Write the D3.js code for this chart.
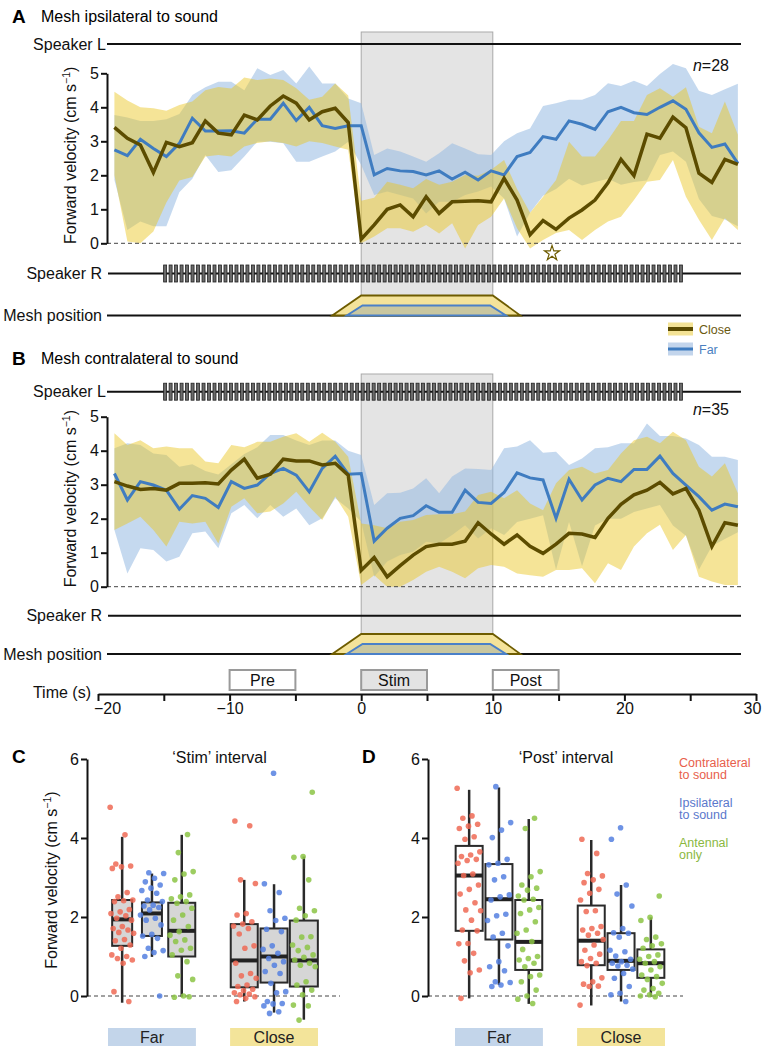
<!DOCTYPE html>
<html>
<head>
<meta charset="utf-8">
<script src="https://cdnjs.cloudflare.com/ajax/libs/d3/7.8.5/d3.min.js"></script>
<style>
  body { margin: 0; background: #fff; }
  svg { display: block; }
</style>
</head>
<body>
<svg id="chart"></svg>
<script>
const W = 763
const H = 1049
const FONT = "'Liberation Sans', Arial, Helvetica, sans-serif"

// time bins, one bin is about 0.987 s
const bins = [-19, -18, -17, -16, -15, -14, -13, -12, -11, -10, -9, -8, -7, -6, -5, -4, -3, -2, -1, 0,
  1, 2, 3, 4, 5, 6, 7, 8, 9, 10, 11, 12, 13, 14, 15, 16, 17, 18, 19, 20, 21, 22, 23, 24, 25, 26, 27, 28, 29]
const binSec = 0.987

// panel A: mesh ipsilateral to sound
const closeMeanA = [3.41, 3.09, 2.89, 2.08, 2.97, 2.84, 2.96, 3.60, 3.24, 3.19, 3.77, 3.63, 4.04, 4.33, 4.12, 3.63, 3.87, 3.97, 3.55, 0.12,
  0.54, 1.00, 1.13, 0.78, 1.37, 0.88, 1.22, 1.24, 1.25, 1.22, 1.91, 1.27, 0.25, 0.67, 0.41, 0.74, 0.98, 1.27, 1.78, 2.47, 1.99, 3.21, 3.09, 3.71, 3.40, 2.06, 1.79, 2.47, 2.32]
const closeLoA = [2.00, 0.05, 0.00, 0.35, 1.20, 1.85, 1.95, 2.55, 2.60, 2.55, 2.85, 2.95, 3.00, 2.95, 2.85, 3.00, 2.95, 2.85, 2.75, 0.00,
  0.20, 0.44, 0.44, 0.34, 0.54, 0.29, 0.59, -0.15, 0.54, 0.78, 1.32, 0.44, -0.15, 0.10, 0.30, 0.39, 0.10, 0.39, 0.64, 0.78, 1.27, 1.81, 1.86, 2.45, 1.37, 0.69, 0.10, 0.74, 0.39]
const closeHiA = [4.46, 4.20, 4.00, 3.97, 3.90, 4.07, 4.17, 4.50, 4.60, 4.55, 4.88, 4.80, 4.85, 4.80, 4.56, 4.22, 4.31, 4.70, 4.35, 1.25,
  1.34, 1.81, 1.72, 1.62, 1.89, 1.72, 1.81, 2.01, 1.99, 2.16, 2.45, 1.60, 0.90, 1.37, 1.86, 2.99, 2.55, 2.55, 3.04, 3.60, 3.60, 4.36, 4.56, 4.31, 4.59, 3.43, 3.24, 4.17, 3.19]
const farMeanA = [2.75, 2.58, 3.06, 2.79, 2.55, 2.94, 3.68, 3.30, 3.30, 3.31, 3.24, 3.65, 3.65, 4.12, 3.61, 4.00, 3.46, 3.38, 3.46, 3.46,
  2.01, 2.20, 2.13, 2.11, 2.01, 2.13, 1.89, 2.09, 1.86, 2.13, 2.01, 2.55, 2.67, 3.14, 3.06, 3.60, 3.50, 3.35, 3.87, 4.00, 3.84, 3.79, 4.00, 4.19, 3.94, 3.25, 2.82, 2.92, 2.35]
const farLoA = [1.86, 0.39, 0.64, 0.50, 0.50, 1.50, 1.90, 2.60, 2.10, 2.15, 2.55, 2.99, 2.99, 2.94, 2.40, 2.40, 2.55, 2.70, 2.99, 2.30,
  1.42, 1.52, 1.42, 1.32, 0.88, 1.22, 1.22, 1.42, 1.52, 1.67, 1.32, 0.20, 0.90, 1.40, 1.60, 1.90, 1.70, 1.80, 1.90, 1.72, 1.80, 1.85, 2.60, 2.70, 2.40, 1.30, 0.80, 0.70, 0.50]
const farHiA = [3.77, 3.70, 3.60, 3.60, 3.65, 3.80, 4.36, 4.59, 4.75, 4.75, 4.50, 5.15, 4.95, 5.10, 4.70, 5.20, 4.70, 4.70, 4.26, 4.12,
  2.60, 2.79, 2.70, 2.55, 2.40, 2.65, 2.94, 2.79, 2.62, 2.60, 3.00, 3.24, 3.38, 4.04, 4.12, 4.22, 4.22, 4.36, 4.71, 4.63, 4.78, 4.63, 4.98, 5.27, 5.15, 4.49, 4.36, 4.53, 4.69]

// panel B: mesh contralateral to sound
const closeMeanB = [3.09, 2.96, 2.86, 2.89, 2.84, 3.04, 3.04, 3.06, 3.02, 3.43, 3.75, 3.19, 3.31, 3.75, 3.70, 3.70, 3.58, 3.63, 3.28, 0.48,
  0.86, 0.29, 0.62, 0.93, 1.18, 1.25, 1.25, 1.34, 1.88, 1.55, 1.25, 1.52, 1.19, 0.98, 1.25, 1.57, 1.55, 1.45, 2.01, 2.42, 2.70, 2.84, 3.07, 2.73, 2.89, 2.25, 1.18, 1.88, 1.81]
const closeLoB = [1.67, 1.86, 2.06, 1.67, 1.18, 1.91, 1.86, 1.91, 1.27, 2.35, 2.60, 2.16, 2.21, 2.45, 2.79, 2.35, 1.96, 2.65, 2.06, 0.05,
  0.34, 0.00, 0.00, 0.20, 0.44, 0.59, 0.44, 0.25, 0.54, 0.64, 0.59, 0.39, 0.34, 0.29, 0.49, 0.49, 0.54, 0.10, 0.69, 0.49, 1.18, 1.57, 1.82, 1.08, 1.52, 0.29, 0.15, 0.05, 0.05]
const closeHiB = [4.51, 4.17, 4.31, 4.07, 4.12, 4.07, 4.07, 3.68, 3.63, 4.17, 4.10, 4.26, 4.26, 4.41, 4.51, 4.26, 4.53, 4.26, 3.82, 1.86,
  1.81, 1.72, 1.91, 1.96, 2.11, 2.13, 2.13, 2.21, 2.70, 2.79, 2.60, 2.84, 2.45, 2.25, 3.04, 3.43, 3.53, 3.33, 3.43, 3.92, 4.31, 4.41, 4.22, 4.56, 4.31, 3.53, 3.24, 3.63, 2.75]
const farMeanB = [3.33, 2.55, 3.09, 2.99, 2.84, 2.28, 2.68, 2.60, 2.33, 3.09, 2.89, 2.99, 3.33, 3.48, 3.28, 2.79, 3.48, 3.84, 3.31, 3.33,
  1.34, 1.72, 2.01, 2.09, 2.38, 2.19, 2.19, 2.84, 2.48, 2.45, 2.77, 3.35, 3.20, 3.14, 2.01, 3.16, 2.55, 2.99, 3.19, 3.09, 3.45, 3.45, 3.84, 3.33, 2.99, 2.65, 2.25, 2.43, 2.35]
const farLoB = [1.67, 0.39, 1.13, 1.08, 0.74, 0.88, 1.57, 1.62, 1.13, 2.16, 2.40, 2.01, 2.40, 2.06, 2.30, 1.81, 2.01, 2.60, 2.30, 1.91,
  0.29, 0.74, 0.93, 1.03, 1.32, 1.27, 1.52, 1.81, 1.42, 1.72, 1.52, 1.90, 2.00, 2.10, 0.50, 1.90, 0.60, 1.80, 2.00, 2.00, 2.20, 2.30, 2.40, 1.80, 1.50, 0.50, 1.20, 1.40, 1.60]
const farHiB = [4.07, 4.22, 4.17, 3.92, 3.87, 3.53, 3.60, 3.40, 3.30, 3.60, 3.90, 4.10, 4.46, 4.46, 4.30, 4.17, 4.30, 4.30, 4.00, 3.87,
  2.40, 2.75, 2.76, 2.89, 3.19, 2.75, 3.24, 3.48, 3.46, 3.43, 4.07, 4.12, 4.31, 3.94, 3.97, 3.58, 3.77, 4.07, 4.10, 4.22, 4.22, 4.80, 4.43, 4.43, 4.36, 4.17, 3.82, 3.82, 3.73]

// stimulus schematic
const pulseT0 = -14.9
const pulseT1 = 24.35
const pulsePeriod = 0.417
const starTimesA = [14.5]
const intervals = [
  {label: "Pre", t0: -10, t1: -5},
  {label: "Stim", t0: 0, t1: 5},
  {label: "Post", t0: 10, t1: 15}
]
const timeTicks = [-20, -15, -10, -5, 0, 5, 10, 15, 20, 25, 30]

// box plots, order: Far contra, Far ipsi, Far antennal, Close contra, Close ipsi, Close antennal
const groups = ["Far", "Close"]
const conds = ["Contralateral", "Ipsilateral", "Antennal"]
const condColors = ["#ee6a55", "#5580e0", "#8cc445"]
const legendLines = [["Contralateral", "to sound"], ["Ipsilateral", "to sound"], ["Antennal", "only"]]
const legendColors = ["#e8604c", "#5a78cc", "#8ab83f"]

const stimLo = [-0.17, 0.99, -0.02, -0.14, -0.42, -0.60]
const stimQ1 = [1.27, 1.52, 1.00, 0.22, 0.34, 0.24]
const stimMed = [1.94, 2.09, 1.65, 0.90, 1.00, 0.90]
const stimQ3 = [2.43, 2.37, 2.36, 1.82, 1.71, 1.91]
const stimHi = [4.03, 3.10, 4.08, 2.94, 2.83, 3.53]

const postLo = [-0.06, 0.28, -0.20, -0.24, -0.14, -0.02]
const postQ1 = [1.65, 1.43, 0.66, 0.78, 0.66, 0.46]
const postMed = [3.05, 2.45, 1.37, 1.40, 0.89, 0.83]
const postQ3 = [3.80, 3.34, 2.43, 2.29, 1.59, 1.18]
const postHi = [5.22, 5.28, 4.48, 3.95, 2.81, 1.99]

const stimFarContra = [4.78, 4.08, 3.34, 3.29, 3.27, 3.23, 2.62, 2.51, 2.43, 2.41, 2.39, 2.19, 2.13, 2.09, 2.03, 1.97, 1.92, 1.76, 1.71, 1.67, 1.61, 1.59, 1.43, 1.40, 1.29, 1.21, 1.04, 1.00, 0.95, 0.91, 0.83, 0.11, -0.14]
const stimFarIpsi = [3.12, 3.10, 2.98, 2.89, 2.81, 2.73, 2.67, 2.60, 2.43, 2.39, 2.30, 2.28, 2.24, 2.18, 2.05, 1.97, 1.92, 1.80, 1.56, 1.52, 1.46, 1.21, 1.15, 1.10, 1.00, 0.00]
const stimFarAnt = [4.09, 3.63, 3.15, 3.09, 2.94, 2.56, 2.51, 2.46, 2.39, 2.35, 2.22, 2.05, 1.92, 1.76, 1.63, 1.54, 1.42, 1.38, 1.21, 1.16, 1.04, 0.87, 0.51, 0.42, 0.00, -0.03, -0.02]
const stimCloseContra = [4.43, 4.31, 2.94, 2.85, 2.09, 2.05, 1.88, 1.82, 1.77, 1.71, 1.57, 1.27, 1.21, 0.83, 0.57, 0.51, 0.45, 0.28, 0.24, 0.17, 0.14, 0.08, 0.05, 0.03, -0.02, -0.06, -0.14]
const stimCloseIpsi = [5.64, 2.84, 2.62, 2.16, 1.97, 1.91, 1.69, 1.63, 1.27, 1.18, 1.08, 0.95, 0.87, 0.78, 0.62, 0.57, 0.32, 0.11, 0.08, -0.14, -0.19, -0.20, -0.25, -0.40, -0.44]
const stimCloseAnt = [5.16, 3.53, 3.51, 2.94, 2.22, 2.16, 2.03, 1.92, 1.50, 1.49, 1.29, 1.23, 1.15, 1.04, 0.98, 0.91, 0.83, 0.78, 0.74, 0.36, 0.28, 0.15, 0.03, -0.23, -0.25, -0.61]

const postFarContra = [5.26, 4.56, 4.50, 4.35, 4.30, 4.24, 4.03, 3.97, 3.65, 3.57, 3.53, 3.46, 3.43, 3.36, 3.09, 3.05, 2.81, 2.70, 2.58, 2.36, 2.18, 2.16, 1.92, 1.67, 1.65, 1.33, 1.32, 1.08, 0.89, 0.66, 0.59, -0.06]
const postFarIpsi = [5.30, 4.39, 4.20, 4.01, 3.46, 3.36, 3.32, 3.02, 2.94, 2.56, 2.51, 2.43, 2.07, 2.03, 1.91, 1.59, 1.49, 1.27, 0.87, 0.74, 0.64, 0.36, 0.34, 0.28, 0.24]
const postFarAnt = [4.50, 4.24, 3.15, 3.02, 2.81, 2.73, 2.68, 2.53, 2.45, 2.43, 2.24, 2.18, 2.09, 1.88, 1.67, 1.59, 1.38, 1.18, 1.00, 0.95, 0.91, 0.83, 0.74, 0.53, 0.49, 0.36, 0.15, 0.00, -0.08, -0.19]
const postCloseContra = [3.97, 3.61, 3.10, 3.04, 2.94, 2.87, 2.70, 2.60, 2.43, 2.16, 2.14, 1.76, 1.71, 1.67, 1.59, 1.54, 1.43, 1.29, 1.16, 1.06, 0.95, 0.87, 0.83, 0.77, 0.46, 0.36, 0.30, 0.25, 0.24, -0.23]
const postCloseIpsi = [4.26, 3.97, 2.81, 2.58, 2.28, 1.71, 1.60, 1.59, 1.49, 1.16, 1.12, 1.01, 0.93, 0.87, 0.83, 0.78, 0.76, 0.68, 0.57, 0.45, 0.24, 0.07, 0.03, -0.14]
const postCloseAnt = [2.53, 1.99, 1.91, 1.49, 1.43, 1.32, 1.27, 1.21, 1.04, 1.00, 0.93, 0.87, 0.83, 0.74, 0.66, 0.53, 0.49, 0.42, 0.32, 0.19, 0.15, 0.07, 0.03, 0.00, -0.02]

const closeCol = "#5c4c00"
const farCol = "#3f7cc0"

const svg = d3.select("#chart")
  .attr("width", W)
  .attr("height", H)
  .style("font-family", FONT)

svg.append("rect").attr("width", W).attr("height", H).attr("fill", "#fff")

const x = d3.scaleLinear().domain([-20, 30]).range([98, 756])
const intFmt = d3.format("d")

const velLabel = (cx, cy) => {
  const t = svg.append("text")
    .attr("transform", `translate(${cx},${cy}) rotate(-90)`)
    .attr("text-anchor", "middle")
    .style("font-size", "16px")
    .attr("fill", "#111")
  t.append("tspan").text("Forward velocity (cm s")
  t.append("tspan").attr("dy", -6).style("font-size", "10.5px").text("\u22121")
  t.append("tspan").attr("dy", 6).text(")")
}

const styleAxis = (g) => {
  g.attr("font-family", FONT).attr("font-size", 16)
  g.select(".domain").attr("stroke", "#111").attr("stroke-width", 2)
  g.selectAll(".tick line").attr("stroke", "#111").attr("stroke-width", 2)
  g.selectAll(".tick text").attr("fill", "#111")
}

function drawTrace(p) {
  const y = d3.scaleLinear().domain([0, 5]).range(p.yRange)
  const g = svg.append("g")
  const meshTop = p.mesh - 20

  // stimulus window
  g.append("rect")
    .attr("x", x(0)).attr("y", p.boxTop)
    .attr("width", x(10) - x(0)).attr("height", meshTop - p.boxTop)
    .attr("fill", "#e4e4e4").attr("stroke", "#a9a9a9").attr("stroke-width", 1)

  const rows = bins.map((k, i) => ({
    t: k * binSec,
    cm: p.closeMean[i], cl: p.closeLo[i], ch: p.closeHi[i],
    fm: p.farMean[i], fl: p.farLo[i], fh: p.farHi[i]
  }))

  const band = (lo, hi) => d3.area().x(d => x(d.t)).y0(d => y(d[lo])).y1(d => y(d[hi]))
  const line = key => d3.line().x(d => x(d.t)).y(d => y(d[key]))

  g.append("path").datum(rows).attr("d", band("fl", "fh"))
    .attr("fill", "rgb(150,185,225)").attr("fill-opacity", 0.55)
  g.append("path").datum(rows).attr("d", band("cl", "ch"))
    .attr("fill", "rgb(233,197,34)").attr("fill-opacity", 0.47)

  g.append("line")
    .attr("x1", 107).attr("x2", 742).attr("y1", y(0)).attr("y2", y(0))
    .attr("stroke", "#444").attr("stroke-width", 1).attr("stroke-dasharray", "4,3")

  g.append("path").datum(rows).attr("d", line("fm"))
    .attr("fill", "none").attr("stroke", farCol).attr("stroke-width", 3)
  g.append("path").datum(rows).attr("d", line("cm"))
    .attr("fill", "none").attr("stroke", closeCol).attr("stroke-width", 3.5)

  g.append("g")
    .attr("transform", "translate(107,0)")
    .call(d3.axisLeft(y).tickValues([0, 1, 2, 3, 4, 5]).tickFormat(intFmt)
      .tickSize(6).tickSizeOuter(0).tickPadding(2))
    .call(styleAxis)

  velLabel(76, (p.yRange[0] + p.yRange[1]) / 2 - 3)

  // speakers
  const speakers = [
    {label: "Speaker L", y: p.spL, x0: 107, pulses: p.pulsesOn === "L", end: 106},
    {label: "Speaker R", y: p.spR, x0: 108, pulses: p.pulsesOn === "R", end: 102}
  ]
  speakers.forEach(s => {
    g.append("line").attr("x1", s.x0).attr("x2", 741).attr("y1", s.y).attr("y2", s.y)
      .attr("stroke", "#111").attr("stroke-width", 2)
    g.append("text").attr("x", s.end).attr("y", s.y + 5.5)
      .attr("text-anchor", "end").style("font-size", "16px").attr("fill", "#111")
      .text(s.label)
    if (s.pulses) {
      g.selectAll(null)
        .data(d3.range(pulseT0, pulseT1, pulsePeriod))
        .enter()
        .append("rect")
          .attr("x", d => x(d) - 1.5).attr("y", s.y - 8.5)
          .attr("width", 3).attr("height", 17)
          .attr("fill", "#6a6a6a").attr("stroke", "#222").attr("stroke-width", 0.8)
    }
  })

  // mesh position
  g.append("line").attr("x1", 107).attr("x2", 741).attr("y1", p.mesh).attr("y2", p.mesh)
    .attr("stroke", "#111").attr("stroke-width", 2)
  g.append("text").attr("x", 102).attr("y", p.mesh + 5.5)
    .attr("text-anchor", "end").style("font-size", "16px").attr("fill", "#111")
    .text("Mesh position")
  const outer = [[-2.2, 0], [0, 20], [10, 20], [12.1, 0]]
  const inner = [[-1.1, 0], [0.1, 10], [9.8, 10], [11.0, 0]]
  g.append("polygon")
    .attr("points", outer.map(d => [x(d[0]), p.mesh - d[1]].join(",")).join(" "))
    .attr("fill", "#f4e39a").attr("stroke", "#6e5c00").attr("stroke-width", 1.8)
  g.append("polygon")
    .attr("points", inner.map(d => [x(d[0]), p.mesh - d[1]].join(",")).join(" "))
    .attr("fill", "#c9c7a0").attr("stroke", "#4a80c8").attr("stroke-width", 2)

  // n label
  const nt = g.append("text").attr("x", 729).attr("y", y(5) - 2)
    .attr("text-anchor", "end").style("font-size", "16px").attr("fill", "#111")
  nt.append("tspan").style("font-style", "italic").text("n")
  nt.append("tspan").text("=" + p.n)

  // stars
  g.selectAll(null).data(p.stars).enter()
    .append("path")
      .attr("d", d3.symbol(d3.symbolStar).size(70))
      .attr("transform", d => `translate(${x(d)},${y(0) + 10})`)
      .attr("fill", "none").attr("stroke", "#6e5c00").attr("stroke-width", 1.2)

  // title
  svg.append("text").attr("x", 12).attr("y", p.titleY)
    .style("font-size", "19px").style("font-weight", "bold").text(p.letter)
  svg.append("text").attr("x", 41).attr("y", p.titleY - 1)
    .style("font-size", "16px").text(p.title)
}

drawTrace({
  letter: "A", title: "Mesh ipsilateral to sound", n: 28, titleY: 23,
  yRange: [243.3, 73.3], spL: 44, spR: 273.5, mesh: 315.5, boxTop: 32, pulsesOn: "R",
  closeMean: closeMeanA, closeLo: closeLoA, closeHi: closeHiA,
  farMean: farMeanA, farLo: farLoA, farHi: farHiA, stars: starTimesA
})
drawTrace({
  letter: "B", title: "Mesh contralateral to sound", n: 35, titleY: 365,
  yRange: [586.7, 416.7], spL: 391.7, spR: 615.7, mesh: 654, boxTop: 374, pulsesOn: "L",
  closeMean: closeMeanB, closeLo: closeLoB, closeHi: closeHiB,
  farMean: farMeanB, farLo: farLoB, farHi: farHiB, stars: []
})

// legend for A/B
const legendKeys = [
  {label: "Close", band: "#f4e396", line: closeCol, text: "#6b5a10", lw: 4},
  {label: "Far", band: "#c3d5ec", line: farCol, text: "#4a7fc0", lw: 3}
]
legendKeys.forEach((d, i) => {
  const ly = 329 + i * 20
  svg.append("rect").attr("x", 668).attr("y", ly - 6.5).attr("width", 25).attr("height", 13).attr("fill", d.band)
  svg.append("line").attr("x1", 668).attr("x2", 693).attr("y1", ly).attr("y2", ly)
    .attr("stroke", d.line).attr("stroke-width", d.lw)
  svg.append("text").attr("x", 699).attr("y", ly + 4.5).style("font-size", "12.5px")
    .attr("fill", d.text).text(d.label)
})

// interval boxes and time axis
intervals.forEach(d => {
  svg.append("rect").attr("x", x(d.t0)).attr("y", 670).attr("width", x(d.t1) - x(d.t0)).attr("height", 20)
    .attr("fill", d.label === "Stim" ? "#e3e3e3" : "#fff").attr("stroke", "#9a9a9a").attr("stroke-width", 2)
  svg.append("text").attr("x", (x(d.t0) + x(d.t1)) / 2).attr("y", 686)
    .attr("text-anchor", "middle").style("font-size", "16px").attr("fill", "#111").text(d.label)
})

const tAxis = svg.append("g")
  .attr("transform", "translate(0,694)")
  .call(d3.axisBottom(x).tickValues(timeTicks).tickSize(7).tickSizeOuter(0).tickPadding(2)
    .tickFormat(d => d % 10 === 0 ? intFmt(d) : ""))
  .call(styleAxis)
tAxis.selectAll(".tick").filter(d => d === -20).select("text").attr("dx", 9)
tAxis.selectAll(".tick").filter(d => d === 30).select("text").attr("dx", -4)

svg.append("text").attr("x", 91).attr("y", 698).attr("text-anchor", "end")
  .style("font-size", "16px").attr("fill", "#111").text("Time (s)")

// box plots
function drawBoxes(p) {
  const y = d3.scaleLinear().domain([0, 6]).range([996, 759])
  const gx = d3.scaleBand().domain(groups).range(p.bandRange).paddingInner(0.28)
  const cx = d3.scaleBand().domain(conds).range([0, gx.bandwidth()]).paddingInner(0.05)
  const g = svg.append("g")

  g.append("line").attr("x1", p.axisX).attr("x2", p.zeroEnd).attr("y1", y(0)).attr("y2", y(0))
    .attr("stroke", "#444").attr("stroke-width", 1).attr("stroke-dasharray", "4,3")

  g.append("g")
    .attr("transform", `translate(${p.axisX},0)`)
    .call(d3.axisLeft(y).tickValues([0, 2, 4, 6]).tickFormat(intFmt)
      .tickSize(6).tickSizeOuter(0).tickPadding(2))
    .call(styleAxis)

  const boxes = p.med.map((m, i) => {
    const grp = groups[Math.floor(i / 3)]
    const cond = conds[i % 3]
    return {
      i, grp, cond, c: gx(grp) + cx(cond) + cx.bandwidth() / 2, w: p.boxW[i],
      lo: p.lo[i], q1: p.q1[i], med: m, q3: p.q3[i], hi: p.hi[i], pts: p.points[i]
    }
  })

  boxes.forEach(b => {
    g.append("line").attr("x1", b.c).attr("x2", b.c).attr("y1", y(b.lo)).attr("y2", y(b.hi))
      .attr("stroke", "#2a2a2a").attr("stroke-width", 2.5)
    g.append("rect").attr("x", b.c - b.w / 2).attr("y", y(b.q3)).attr("width", b.w).attr("height", y(b.q1) - y(b.q3))
      .attr("fill", p.boxFill).attr("stroke", "#2a2a2a").attr("stroke-width", 2)
    g.append("line").attr("x1", b.c - b.w / 2).attr("x2", b.c + b.w / 2).attr("y1", y(b.med)).attr("y2", y(b.med))
      .attr("stroke", "#222").attr("stroke-width", 4)
  })

  boxes.forEach(b => {
    g.selectAll(null).data(b.pts).enter()
      .append("circle")
        .attr("cx", (d, j) => b.c + (((j * 0.618034 + b.i * 0.37) % 1) - 0.5) * 24)
        .attr("cy", d => y(d))
        .attr("r", 2.8)
        .attr("fill", condColors[b.i % 3])
        .attr("fill-opacity", 0.85)
  })

  // Far / Close labels
  groups.forEach(grp => {
    g.append("rect").attr("x", gx(grp)).attr("y", 1028).attr("width", gx.bandwidth()).attr("height", 18)
      .attr("fill", grp === "Far" ? "#c3d5ea" : "#f3e49a")
    g.append("text").attr("x", gx(grp) + gx.bandwidth() / 2).attr("y", 1043)
      .attr("text-anchor", "middle").style("font-size", "16px").attr("fill", "#222").text(grp)
  })

  svg.append("text").attr("x", p.letterX).attr("y", 763)
    .style("font-size", "19px").style("font-weight", "bold").text(p.letter)
  svg.append("text").attr("x", p.titleX).attr("y", 763).attr("text-anchor", "middle")
    .style("font-size", "16px").attr("fill", "#111").text(p.title)
}

drawBoxes({
  letter: "C", letterX: 12, title: "\u2018Stim\u2019 interval", titleX: 219.5,
  axisX: 87, zeroEnd: 340, bandRange: [108, 318], boxFill: "#d6d6d6",
  boxW: [20, 20, 27, 27, 27, 28],
  lo: stimLo, q1: stimQ1, med: stimMed, q3: stimQ3, hi: stimHi,
  points: [stimFarContra, stimFarIpsi, stimFarAnt, stimCloseContra, stimCloseIpsi, stimCloseAnt]
})
drawBoxes({
  letter: "D", letterX: 362, title: "\u2018Post\u2019 interval", titleX: 566,
  axisX: 428, zeroEnd: 683, bandRange: [455, 665], boxFill: "#fff",
  boxW: [27, 27, 27, 27, 27, 27],
  lo: postLo, q1: postQ1, med: postMed, q3: postQ3, hi: postHi,
  points: [postFarContra, postFarIpsi, postFarAnt, postCloseContra, postCloseIpsi, postCloseAnt]
})

velLabel(57, 880)

// condition legend
legendLines.forEach((lines, i) => {
  const t = svg.append("text").attr("x", 679).attr("y", 767 + i * 40)
    .style("font-size", "12.5px").attr("fill", legendColors[i])
  lines.forEach((s, j) => {
    t.append("tspan").attr("x", 679).attr("dy", j === 0 ? 0 : 12).text(s)
  })
})
</script>
</body>
</html>
